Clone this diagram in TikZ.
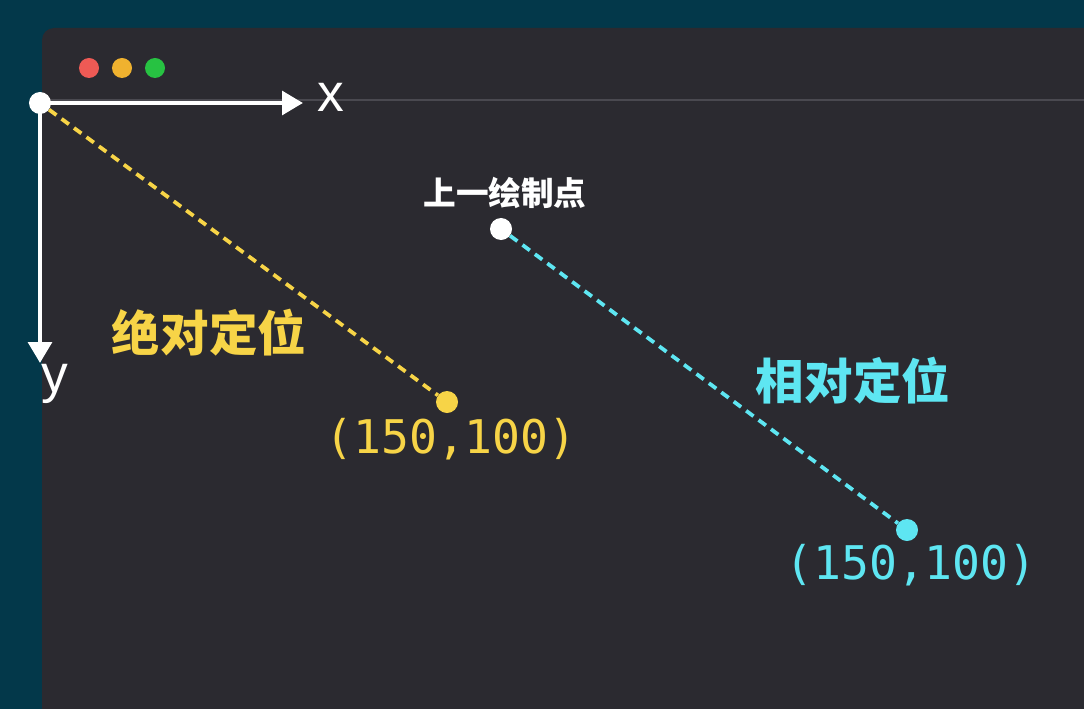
\documentclass[tikz,border=0pt]{standalone}
\usepackage{fontspec}
\newfontfamily\cjk{Noto Sans CJK SC}
\newfontfamily\codefont{DejaVu Sans Mono}
\newfontfamily\axisfont{Liberation Sans}
\usetikzlibrary{arrows.meta}
\definecolor{deskbg}{HTML}{03384A}
\definecolor{winbg}{HTML}{2B2A30}
\definecolor{winline}{HTML}{4A4950}
\definecolor{macred}{HTML}{EE5A55}
\definecolor{macyellow}{HTML}{F0B22F}
\definecolor{macgreen}{HTML}{27C242}
\definecolor{absyellow}{HTML}{F7D447}
\definecolor{relcyan}{HTML}{5EE6F2}
\tikzset{
  dot/.style={circle, fill=#1, inner sep=0pt, minimum size=0.55cm},
  light/.style={circle, fill=#1, inner sep=0pt, minimum size=0.5cm},
  axis/.style={white, line width=3.3pt, -{Triangle[length=0.52cm, width=0.58cm]}},
  guide/.style={#1, line width=2.7pt, dash pattern=on 6.5pt off 4.5pt},
  cjklabel/.style={text=#1, font=\cjk\bfseries\fontsize{34.5}{38}\selectfont},
  coordlabel/.style={text=#1, font=\codefont\fontsize{33}{36}\selectfont}
}
\begin{document}
\begin{tikzpicture}[x=0.025cm, y=-0.025cm]
  \useasboundingbox (0,0) rectangle (1084,709);
  % Desktop and window
  \fill[deskbg] (0,0) rectangle (1084,709);
  \fill[winbg, rounded corners=0.3cm] (42,28) rectangle (1120,760);
  \draw[winline, line width=1pt] (42,100) -- (1084,100);
  \node[light=macred] (red) at (89,68) {};
  \node[light=macyellow] (yellow) at (122,68) {};
  \node[light=macgreen] (green) at (155,68) {};
  % Axes
  \node[dot=white] (origin) at (40,103) {};
  \coordinate (xend) at (303,103);
  \coordinate (yend) at (40,363);
  \draw[axis] (origin.center) -- (xend);
  \draw[axis] (origin.center) -- (yend);
  \node[text=white, font=\axisfont\fontsize{38}{40}\selectfont] (xlabel) at (331,97) {x};
  \node[text=white, font=\axisfont\fontsize{38}{40}\selectfont] (ylabel) at (55,384) {y};
  % Absolute positioning
  \node[dot=absyellow] (abspt) at (447,402) {};
  \draw[guide=absyellow] (origin) -- (abspt);
  \node[cjklabel=absyellow] (abstext) at (209,333) {绝对定位};
  \node[coordlabel=absyellow] (abscoord) at (451,439) {(150,100)};
  % Relative positioning
  \node[dot=white] (last) at (501,229) {};
  \node[text=white, font=\cjk\bfseries\fontsize{23.2}{26}\selectfont] (lasttext) at (505,193) {上一绘制点};
  \node[dot=relcyan] (relpt) at (907,530) {};
  \draw[guide=relcyan] (last) -- (relpt);
  \node[cjklabel=relcyan] (reltext) at (853,381) {相对定位};
  \node[coordlabel=relcyan] (relcoord) at (911,565) {(150,100)};
\end{tikzpicture}
\end{document}
